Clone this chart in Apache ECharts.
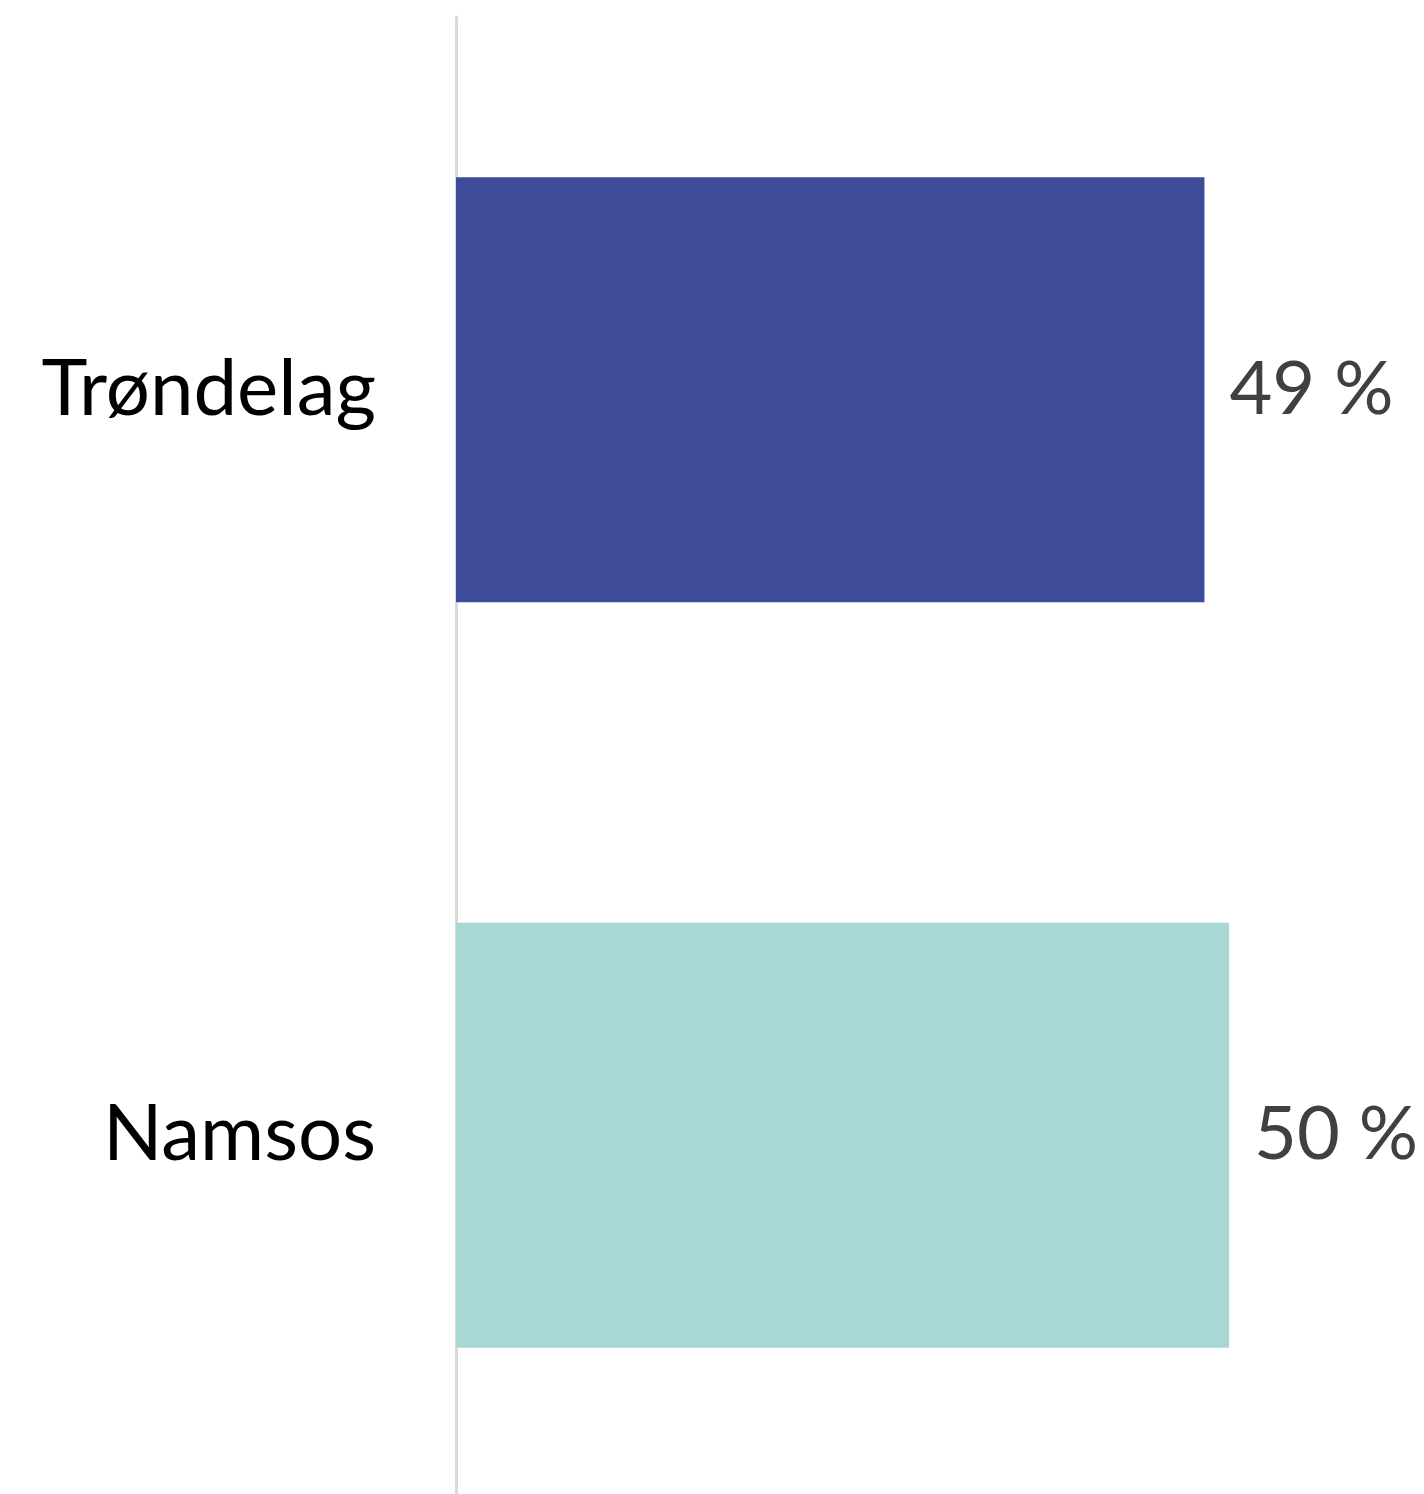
<!DOCTYPE html>
<html>
<head>
<meta charset="utf-8">
<script src="https://cdn.jsdelivr.net/npm/echarts@6/dist/echarts.min.js"></script>
<style>
html,body{margin:0;padding:0;background:#fff;}
#chart{width:1424px;height:1494px;}
</style>
</head>
<body>
<div id="chart"></div>
<script>
const categories = ['Trøndelag', 'Namsos'];
const values = [48.6, 50.2];
const barColors = ['#3E4B98', '#A8D8D6'];

const chart = echarts.init(document.getElementById('chart'), null, {renderer: 'canvas'});
chart.setOption({
  animation: false,
  backgroundColor: '#ffffff',
  grid: {left: 456, top: 17, height: 1491, right: 44, containLabel: false, outerBoundsMode: 'none'},
  xAxis: {
    type: 'value', min: 0, max: 60,
    axisLine: {show: false}, axisTick: {show: false},
    axisLabel: {show: false}, splitLine: {show: false}
  },
  yAxis: {
    type: 'category', inverse: true, data: categories,
    axisLine: {show: true, lineStyle: {color: '#D9D9D9', width: 3}},
    axisTick: {show: false},
    axisLabel: {margin: 80, color: '#000000', fontFamily: 'Lato', fontSize: 78, padding: [8, 0, 0, 0]}
  },
  series: [{
    type: 'bar',
    barCategoryGap: '43%',
    data: values.map((v, i) => ({value: v, itemStyle: {color: barColors[i]}})),
    label: {
      show: true, position: 'right', distance: 25,
      color: '#404040', fontFamily: 'Lato', fontSize: 74,
      padding: [12, 0, 0, 0],
      formatter: p => Math.round(p.value) + ' %'
    }
  }]
});
</script>
</body>
</html>
